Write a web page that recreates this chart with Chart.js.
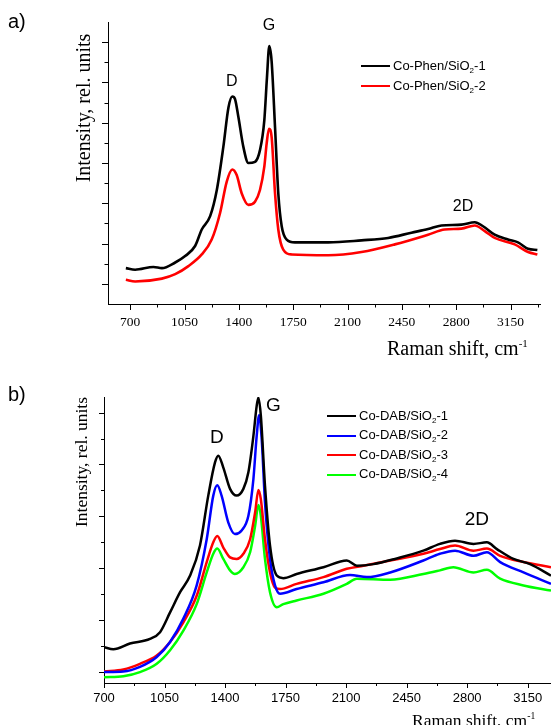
<!DOCTYPE html>
<html>
<head>
<meta charset="utf-8">
<title>Raman spectra</title>
<script src="https://cdn.jsdelivr.net/npm/chart.js@4.4.0/dist/chart.umd.min.js"></script>
<style>
  body { margin: 0; width: 551px; height: 725px; position: relative; overflow: hidden; background: #fff; font-family: "Liberation Sans", Arial, sans-serif; }
  canvas { position: absolute; left: 0; }
  #chartA { top: 0; }
  #chartB { top: 360px; }
  .txt { position: absolute; white-space: nowrap; line-height: 1; color: #000; }
  .serif { font-family: "Liberation Serif", "Times New Roman", serif; }
  .ytitle { transform: translate(-50%, -50%) rotate(-90deg); }
  .txt sup { font-size: 0.55em; vertical-align: 0.75em; }
  .legend { position: absolute; font-size: 13px; }
  .legend .row { position: absolute; left: 0; height: 16px; display: flex; align-items: center; white-space: nowrap; }
  .legend .swatch { display: inline-block; width: 29px; height: 2px; margin-right: 3px; }
  .legend sub { font-size: 8px; vertical-align: -3px; }
</style>
</head>
<body>
<canvas id="chartA" width="551" height="345"></canvas>
<canvas id="chartB" width="551" height="365"></canvas>

<div class="txt" style="left:8px; top:11px; font-size:20px;">a)</div>
<div class="txt" style="left:8px; top:384px; font-size:20px;">b)</div>

<div class="txt serif ytitle" style="left:83px; top:108px; font-size:20px;">Intensity, rel. units</div>
<div class="txt serif" style="left:387px; top:338px; font-size:20px;">Raman shift, cm<sup>-1</sup></div>

<div class="txt serif ytitle" style="left:82px; top:462px; font-size:17.5px;">Intensity, rel. units</div>
<div class="txt serif" style="left:412px; top:711px; font-size:17.5px;">Raman shift, cm<sup>-1</sup></div>

<div class="legend" id="legendA" style="left:361px; top:58px;"></div>
<div class="legend" id="legendB" style="left:327px; top:408px;"></div>

<script>
// Raman shift (cm-1) and intensity (rel. units) of each spectrum
var phenShift1 = [672, 732, 850, 904, 990, 1054, 1118, 1161, 1215, 1258, 1300, 1333, 1358, 1375, 1397, 1429, 1461, 1504, 1536, 1564, 1581, 1596, 1611, 1633, 1654, 1676, 1708, 1761, 1976, 2190, 2362, 2512, 2619, 2705, 2834, 2920, 2973, 3048, 3134, 3198, 3263, 3323];
var phenInt1 = [0.39, 0.35, 0.42, 0.39, 0.53, 0.69, 0.94, 1.35, 1.68, 2.33, 3.40, 4.38, 4.65, 4.59, 4.14, 3.40, 3.00, 3.03, 3.32, 4.06, 5.12, 5.90, 5.53, 3.89, 2.25, 1.43, 1.10, 1.03, 1.03, 1.08, 1.14, 1.27, 1.36, 1.45, 1.47, 1.53, 1.43, 1.22, 1.10, 1.03, 0.87, 0.84];

var phenShift2 = [672, 732, 904, 990, 1075, 1161, 1225, 1279, 1322, 1358, 1386, 1418, 1461, 1504, 1536, 1564, 1579, 1594, 1611, 1633, 1654, 1686, 1740, 1976, 2190, 2405, 2619, 2726, 2834, 2920, 2984, 3048, 3177, 3263, 3323];
var phenInt2 = [0.10, 0.06, 0.13, 0.24, 0.44, 0.73, 1.10, 1.76, 2.54, 2.84, 2.70, 2.25, 1.96, 2.04, 2.33, 2.91, 3.48, 3.85, 3.65, 2.25, 1.35, 0.85, 0.73, 0.71, 0.79, 0.98, 1.22, 1.35, 1.37, 1.45, 1.31, 1.14, 0.98, 0.79, 0.73];

var dabShift1 = [700, 754, 850, 966, 1024, 1082, 1140, 1198, 1255, 1303, 1342, 1361, 1390, 1429, 1467, 1506, 1535, 1564, 1583, 1593, 1607, 1631, 1660, 1699, 1737, 1814, 1969, 2104, 2162, 2258, 2393, 2547, 2643, 2730, 2837, 2914, 2972, 3068, 3164, 3285];
var dabInt1 = [0.48, 0.44, 0.55, 0.64, 0.77, 1.15, 1.54, 1.86, 2.44, 3.40, 4.04, 4.17, 3.94, 3.53, 3.40, 3.53, 3.85, 4.55, 5.13, 5.29, 4.94, 3.59, 2.44, 1.86, 1.81, 1.89, 2.02, 2.15, 2.05, 2.08, 2.19, 2.34, 2.47, 2.53, 2.47, 2.50, 2.37, 2.18, 2.08, 1.86];

var dabShift2 = [700, 812, 908, 1005, 1082, 1159, 1236, 1294, 1332, 1355, 1380, 1419, 1457, 1496, 1535, 1564, 1583, 1597, 1612, 1631, 1660, 1689, 1718, 1814, 1969, 2123, 2220, 2355, 2547, 2643, 2730, 2837, 2914, 2991, 3126, 3285];
var dabInt2 = [0.00, 0.01, 0.10, 0.29, 0.58, 1.03, 1.67, 2.56, 3.40, 3.60, 3.40, 2.88, 2.66, 2.73, 3.01, 3.72, 4.55, 4.95, 4.49, 3.27, 2.18, 1.67, 1.51, 1.60, 1.73, 1.87, 1.83, 1.92, 2.15, 2.28, 2.34, 2.24, 2.31, 2.12, 1.92, 1.70];

var dabShift3 = [700, 812, 908, 1005, 1082, 1159, 1236, 1294, 1332, 1355, 1390, 1429, 1467, 1506, 1545, 1574, 1593, 1607, 1631, 1660, 1689, 1718, 1814, 1969, 2104, 2200, 2355, 2547, 2643, 2730, 2837, 2914, 2991, 3126, 3285];
var dabInt3 = [0.01, 0.05, 0.16, 0.32, 0.58, 0.96, 1.47, 2.12, 2.50, 2.62, 2.40, 2.21, 2.18, 2.28, 2.56, 3.08, 3.51, 3.33, 2.56, 1.92, 1.63, 1.60, 1.70, 1.83, 1.99, 2.05, 2.15, 2.28, 2.37, 2.44, 2.34, 2.38, 2.24, 2.12, 2.02];

var dabShift4 = [700, 812, 908, 1005, 1082, 1159, 1236, 1294, 1332, 1355, 1390, 1429, 1457, 1506, 1545, 1574, 1593, 1607, 1631, 1660, 1699, 1737, 1814, 1969, 2104, 2162, 2355, 2547, 2643, 2720, 2837, 2914, 2991, 3126, 3285];
var dabInt4 = [-0.10, -0.08, 0.00, 0.16, 0.42, 0.80, 1.31, 1.92, 2.28, 2.38, 2.18, 1.96, 1.89, 2.02, 2.31, 2.82, 3.22, 3.01, 2.18, 1.54, 1.25, 1.31, 1.38, 1.51, 1.70, 1.80, 1.78, 1.89, 1.96, 2.02, 1.92, 1.97, 1.80, 1.67, 1.57];

var phenLabels = ['Co-Phen/SiO\u2082-1', 'Co-Phen/SiO\u2082-2'];
var dabLabels = ['Co-DAB/SiO\u2082-1', 'Co-DAB/SiO\u2082-2', 'Co-DAB/SiO\u2082-3', 'Co-DAB/SiO\u2082-4'];
var shiftTicks = [700, 1050, 1400, 1750, 2100, 2450, 2800, 3150];
var bandNames = ['D', 'G', '2D'];

function series(xs, ys) {
  return xs.map(function (v, i) { return { x: v, y: ys[i] }; });
}

function line(label, color, xs, ys, width) {
  return {
    label: label,
    data: series(xs, ys),
    borderColor: color,
    backgroundColor: color,
    borderWidth: width,
    pointRadius: 0,
    cubicInterpolationMode: 'monotone',
    fill: false
  };
}

// major ticks on the listed values, minor ticks halfway between
function xTicksFor(scale) {
  var list = [];
  shiftTicks.forEach(function (v) {
    list.push({ value: v, major: true });
    list.push({ value: v + 175, major: false });
  });
  scale.ticks = list.filter(function (t) { return t.value >= scale.min && t.value <= scale.max; })
    .sort(function (a, b) { return a.value - b.value; });
}
function yTicksFor(scale) {
  var list = [];
  for (var v = -1; v <= 7; v += 0.5) {
    if (v > scale.min + 0.01 && v < scale.max - 0.01) list.push({ value: v, major: v % 1 === 0 });
  }
  scale.ticks = list;
}

// tick marks: long for major, short for minor, both outside the axes
var tickMarks = {
  id: 'tickMarks',
  afterDraw: function (chart, args, opts) {
    var ctx = chart.ctx, area = chart.chartArea;
    var sx = chart.scales.x, sy = chart.scales.y;
    ctx.save();
    ctx.strokeStyle = '#000';
    ctx.lineWidth = 1;
    sx.ticks.forEach(function (t) {
      var px = Math.round(sx.getPixelForValue(t.value)) + 0.5;
      ctx.beginPath();
      ctx.moveTo(px, area.bottom);
      ctx.lineTo(px, area.bottom + (t.major ? opts.major : opts.minor));
      ctx.stroke();
    });
    sy.ticks.forEach(function (t) {
      var py = Math.round(sy.getPixelForValue(t.value)) + 0.5;
      ctx.beginPath();
      ctx.moveTo(area.left, py);
      ctx.lineTo(area.left - (t.major ? opts.major : opts.minor), py);
      ctx.stroke();
    });
    ctx.restore();
  }
};

// D, G and 2D band names placed in data coordinates
var bandLabels = {
  id: 'bandLabels',
  afterDatasetsDraw: function (chart, args, opts) {
    var ctx = chart.ctx;
    ctx.save();
    ctx.fillStyle = '#000';
    ctx.font = opts.size + 'px "Liberation Sans", Arial, sans-serif';
    ctx.textAlign = 'center';
    ctx.textBaseline = 'middle';
    opts.at.forEach(function (p, i) {
      ctx.fillText(bandNames[i], chart.scales.x.getPixelForValue(p[0]), chart.scales.y.getPixelForValue(p[1]));
    });
    ctx.restore();
  }
};

function makeOptions(cfg) {
  return {
    responsive: false,
    animation: false,
    layout: { padding: cfg.padding },
    plugins: {
      legend: { display: false },
      tooltip: { enabled: false },
      tickMarks: { major: cfg.majorLen, minor: cfg.minorLen },
      bandLabels: { size: cfg.bandSize, at: cfg.bands }
    },
    scales: {
      x: {
        type: 'linear',
        min: cfg.xMin,
        max: cfg.xMax,
        afterBuildTicks: xTicksFor,
        afterFit: function (s) { s.height = cfg.xHeight; },
        border: { display: true, color: '#000', width: 1 },
        grid: { drawOnChartArea: false, color: 'rgba(0,0,0,0)', tickLength: cfg.majorLen },
        ticks: {
          autoSkip: false,
          maxRotation: 0,
          padding: cfg.tickPad,
          color: '#000',
          font: cfg.tickFont,
          callback: function (value, index, ticks) { return ticks[index].major ? String(value) : ''; }
        }
      },
      y: {
        type: 'linear',
        min: cfg.yMin,
        max: cfg.yMax,
        afterBuildTicks: yTicksFor,
        afterFit: function (s) { s.width = cfg.yWidth; },
        border: { display: true, color: '#000', width: 1 },
        grid: { drawOnChartArea: false, color: 'rgba(0,0,0,0)' },
        ticks: { display: false }
      }
    }
  };
}

var chartA = new Chart(document.getElementById('chartA'), {
  type: 'line',
  data: {
    datasets: [
      line(phenLabels[0], '#000000', phenShift1, phenInt1, 2.6),
      line(phenLabels[1], '#ff0000', phenShift2, phenInt2, 2.6)
    ]
  },
  options: makeOptions({
    padding: { left: 0, top: 22, right: 11, bottom: 0 },
    xMin: 557, xMax: 3340, yMin: -0.5, yMax: 6.5,
    xHeight: 41, yWidth: 108,
    majorLen: 6, minorLen: 3.5, tickPad: 4,
    tickFont: { family: '"Liberation Serif", "Times New Roman", serif', size: 13.5 },
    bandSize: 16,
    bands: [[1354, 5.02], [1594, 6.40], [2844, 1.91]]
  }),
  plugins: [tickMarks, bandLabels]
});

var chartB = new Chart(document.getElementById('chartB'), {
  type: 'line',
  data: {
    datasets: [
      line(dabLabels[0], '#000000', dabShift1, dabInt1, 2.5),
      line(dabLabels[1], '#0000ff', dabShift2, dabInt2, 2.5),
      line(dabLabels[2], '#ff0000', dabShift3, dabInt3, 2.5),
      line(dabLabels[3], '#00ff00', dabShift4, dabInt4, 2.5)
    ]
  },
  options: makeOptions({
    padding: { left: 0, top: 37, right: 0, bottom: 0 },
    xMin: 700, xMax: 3285, yMin: -0.21, yMax: 5.3,
    xHeight: 42, yWidth: 104,
    majorLen: 5, minorLen: 3, tickPad: 3,
    tickFont: { family: '"Liberation Sans", Arial, sans-serif', size: 13 },
    bandSize: 19,
    bands: [[1352, 4.52], [1679, 5.14], [2856, 2.93]]
  }),
  plugins: [tickMarks, bandLabels]
});

// legend rows built from the datasets
function buildLegend(el, chart, gap) {
  chart.data.datasets.forEach(function (ds, i) {
    var row = document.createElement('div');
    row.className = 'row';
    row.style.top = (i * gap) + 'px';
    var sw = document.createElement('span');
    sw.className = 'swatch';
    sw.style.background = ds.borderColor;
    var tx = document.createElement('span');
    tx.innerHTML = ds.label.replace('\u2082', '<sub>2</sub>');
    row.appendChild(sw);
    row.appendChild(tx);
    el.appendChild(row);
  });
}
buildLegend(document.getElementById('legendA'), chartA, 20);
buildLegend(document.getElementById('legendB'), chartB, 19.5);
</script>
</body>
</html>
